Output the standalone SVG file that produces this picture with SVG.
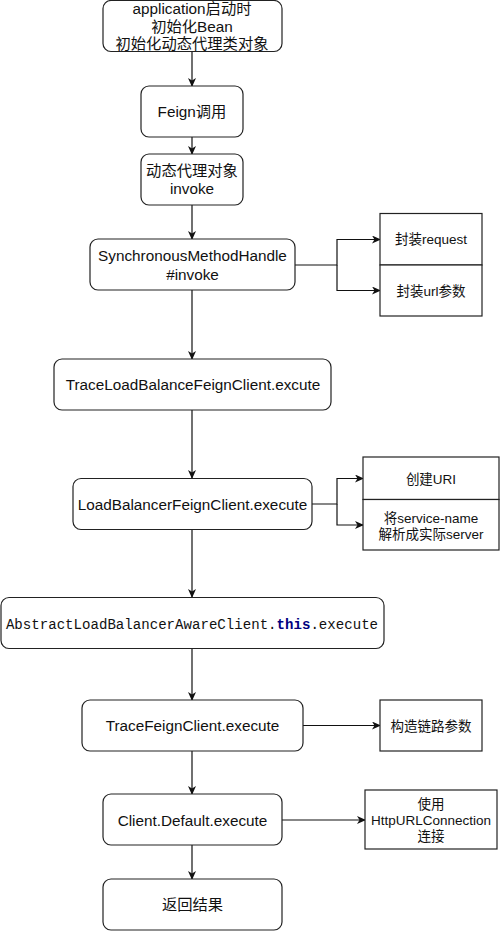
<svg xmlns="http://www.w3.org/2000/svg" width="500" height="931" viewBox="0 0 500 931">
<style>
.n{fill:#fff;stroke:#222;stroke-width:1.2}
.t{font-family:"Liberation Sans","Noto Sans CJK SC",sans-serif;font-size:15.3px;fill:#111;text-anchor:middle}
.s{font-size:13.5px}
.m{font-family:"Liberation Mono","Noto Sans CJK SC",monospace;font-size:14.1px;fill:#111;text-anchor:middle}
.e{fill:none;stroke:#111;stroke-width:1.2}
</style>
<defs>
<marker id="a" markerUnits="userSpaceOnUse" markerWidth="10" markerHeight="10" refX="8" refY="4" orient="auto">
<path d="M0,0 L9,4 L0,8 L2.5,4 z" fill="#111"/>
</marker>
</defs>
<rect width="500" height="931" fill="#fff"/>
<g id="connectors">
<path class="e" d="M192,51 V86" marker-end="url(#a)"/>
<path class="e" d="M192,137 V154" marker-end="url(#a)"/>
<path class="e" d="M192,205 V239" marker-end="url(#a)"/>
<path class="e" d="M192,290 V359" marker-end="url(#a)"/>
<path class="e" d="M192,410 V478" marker-end="url(#a)"/>
<path class="e" d="M192,529 V597" marker-end="url(#a)"/>
<path class="e" d="M192,649 V700" marker-end="url(#a)"/>
<path class="e" d="M192,751 V794" marker-end="url(#a)"/>
<path class="e" d="M192,845 V879" marker-end="url(#a)"/>
<path class="e" d="M295,265 H337 V239.5 H380" marker-end="url(#a)"/>
<path class="e" d="M337,265 V290.5 H380" marker-end="url(#a)"/>
<path class="e" d="M312,504 H337 V478.5 H363" marker-end="url(#a)"/>
<path class="e" d="M337,504 V525 H363" marker-end="url(#a)"/>
<path class="e" d="M303,725.5 H380" marker-end="url(#a)"/>
<path class="e" d="M282,820 H365" marker-end="url(#a)"/>
</g>
<g id="n1"><rect class="n" x="103" y="0.5" width="179" height="51" rx="8"/>
<text class="t" x="192" y="14">application启动时</text>
<text class="t" x="192" y="31.5">初始化Bean</text>
<text class="t" x="192" y="49">初始化动态代理类对象</text></g>
<g id="n2"><rect class="n" x="141" y="86" width="102" height="51" rx="8"/>
<text class="t" x="192" y="117">Feign调用</text></g>
<g id="n3"><rect class="n" x="141" y="154" width="102" height="51" rx="8"/>
<text class="t" x="192" y="176">动态代理对象</text>
<text class="t" x="192" y="194">invoke</text></g>
<g id="n4"><rect class="n" x="90" y="239" width="205" height="51" rx="8"/>
<text class="t" x="192.5" y="261">SynchronousMethodHandle</text>
<text class="t" x="192.5" y="279.5">#invoke</text></g>
<g id="s1"><rect class="n" x="380" y="213.5" width="102" height="51.5"/>
<text class="t s" x="431" y="244">封装request</text></g>
<g id="s2"><rect class="n" x="380" y="265" width="102" height="51"/>
<text class="t s" x="431" y="296">封装url参数</text></g>
<g id="n5"><rect class="n" x="54" y="359" width="277" height="51" rx="8"/>
<text class="t" x="193" y="390">TraceLoadBalanceFeignClient.excute</text></g>
<g id="n6"><rect class="n" x="73" y="478.5" width="239" height="51" rx="8"/>
<text class="t" x="192.5" y="509.5">LoadBalancerFeignClient.execute</text></g>
<g id="s3"><rect class="n" x="363" y="457" width="136" height="42.5"/>
<text class="t s" x="431" y="484">创建URI</text></g>
<g id="s4"><rect class="n" x="363" y="499.5" width="136" height="50.5"/>
<text class="t s" x="431" y="522.5">将service-name</text>
<text class="t s" x="431" y="538.5">解析成实际server</text></g>
<g id="n7"><rect class="n" x="1" y="597.5" width="383" height="51" rx="8"/>
<text class="m" x="192" y="628.5">AbstractLoadBalancerAwareClient.<tspan fill="#000080" font-weight="bold">this</tspan>.execute</text></g>
<g id="n8"><rect class="n" x="82" y="700" width="221" height="51" rx="8"/>
<text class="t" x="192.5" y="731">TraceFeignClient.execute</text></g>
<g id="s5"><rect class="n" x="380" y="700" width="102" height="51"/>
<text class="t s" x="431" y="731">构造链路参数</text></g>
<g id="n9"><rect class="n" x="103" y="794" width="179" height="51" rx="8"/>
<text class="t" x="192.5" y="825.5">Client.Default.execute</text></g>
<g id="s6"><rect class="n" x="365" y="790" width="132" height="59"/>
<text class="t s" x="431" y="809">使用</text>
<text class="t s" x="431" y="825">HttpURLConnection</text>
<text class="t s" x="431" y="841">连接</text></g>
<g id="n10"><rect class="n" x="103" y="879" width="179" height="51" rx="8"/>
<text class="t" x="192.5" y="910">返回结果</text></g>
</svg>
